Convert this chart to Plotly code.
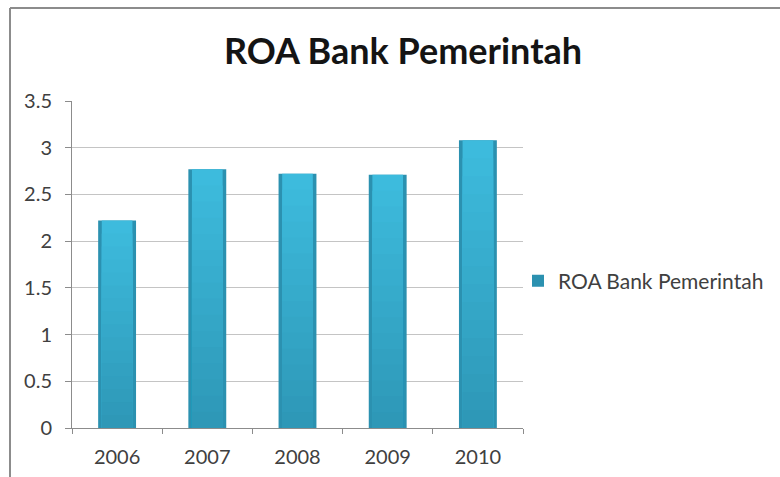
import plotly.graph_objects as go

# ROA (%) of state-owned banks, 2006-2010
years = ["2006", "2007", "2008", "2009", "2010"]
roa = [2.22, 2.77, 2.72, 2.71, 3.08]
series_name = "ROA Bank Pemerintah"
y_ticks = [0, 0.5, 1, 1.5, 2, 2.5, 3, 3.5]
y_tick_text = ["0", "0.5", "1", "1.5", "2", "2.5", "3", "3.5"]

FONT = "Lato, 'Open Sans', sans-serif"
TEXT = "#404040"

# plot area in pixels
W, H = 780, 477
L, R, T, B = 72, 523, 101, 428


def px_x(px):
    return (px - L) / (R - L)


def px_y(py):
    return (B - py) / (B - T)


def mix(c1, c2, t):
    a = [int(c1[i:i + 2], 16) for i in (1, 3, 5)]
    b = [int(c2[i:i + 2], 16) for i in (1, 3, 5)]
    return "#" + "".join(f"{round(x + (y - x) * t):02X}" for x, y in zip(a, b))


fig = go.Figure()

# outer bar (darker rim) – this is the legend entry
fig.add_trace(go.Bar(
    x=years, y=roa, name=series_name, width=0.42,
    marker=dict(color="#2B91B0", line=dict(width=0)),
    showlegend=True,
))

# inner face: many thin overlaid layers fading from light cyan (top) to teal (base)
TOP_COL, BASE_COL = "#3DBBDD", "#2E98B7"
n_layers = 16
for k in range(n_layers):
    frac = 1 - k / n_layers
    fig.add_trace(go.Bar(
        x=years, y=[v * frac for v in roa], width=0.34,
        marker=dict(color=mix(TOP_COL, BASE_COL, k / (n_layers - 1)), line=dict(width=0)),
        showlegend=False, hoverinfo="skip",
    ))

shapes = [
    # frame around the chart (top and left edges visible)
    dict(type="line", xref="paper", yref="paper",
         x0=px_x(10), x1=px_x(781), y0=px_y(8), y1=px_y(8),
         line=dict(color="#8C8C8C", width=2)),
    dict(type="line", xref="paper", yref="paper",
         x0=px_x(10), x1=px_x(10), y0=px_y(8), y1=px_y(478),
         line=dict(color="#8C8C8C", width=2)),
]

fig.update_layout(
    width=W, height=H,
    margin=dict(l=L, r=W - R, t=T, b=H - B, pad=0, autoexpand=False),
    paper_bgcolor="white", plot_bgcolor="white",
    barmode="overlay",
    font=dict(family=FONT, color=TEXT, size=20),
    title=dict(text="<b>ROA Bank Pemerintah</b>", x=403 / W, xref="container",
               xanchor="center", y=1 - 51 / H, yref="container", yanchor="middle",
               font=dict(family=FONT, size=36, color="#141414")),
    legend=dict(x=px_x(518), y=px_y(281), xanchor="left", yanchor="middle",
                font=dict(size=21, color=TEXT), bgcolor="rgba(0,0,0,0)",
                itemwidth=30, traceorder="normal"),
    shapes=shapes,
    showlegend=True,
)

fig.update_xaxes(
    type="category", showline=True, linecolor="#8C8C8C", linewidth=1,
    ticks="outside", tickson="boundaries", ticklen=5, tickcolor="#8C8C8C",
    showgrid=False, tickfont=dict(size=20, color=TEXT), ticklabelstandoff=11,
    range=[-0.5, 4.5], fixedrange=True, automargin=False,
)
fig.update_yaxes(
    range=[0, 3.5], tickvals=y_ticks, ticktext=y_tick_text,
    showline=True, linecolor="#8C8C8C", linewidth=1,
    ticks="outside", ticklen=6, tickcolor="#8C8C8C",
    showgrid=True, gridcolor="#C4C4C4", gridwidth=1,
    zeroline=False, tickfont=dict(size=20, color=TEXT), ticklabelstandoff=9,
    fixedrange=True, automargin=False,
)

fig.write_html("out.html", config=dict(displayModeBar=False))
